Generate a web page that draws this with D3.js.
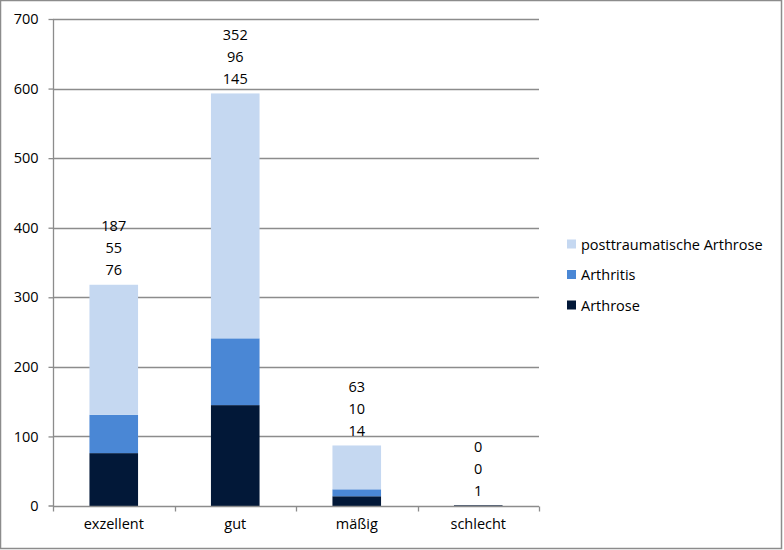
<!DOCTYPE html>
<html><head><meta charset="utf-8">
<script src="https://cdn.jsdelivr.net/npm/d3@7"></script>
<style>
html,body{margin:0;padding:0;background:#fff;}
svg{display:block;}
text{font-family:"Open Sans",sans-serif;fill:#000;}
</style></head>
<body>
<svg id="chart" width="784" height="550"></svg>
<script>
const categories = ["exzellent", "gut", "mäßig", "schlecht"];
const seriesNames = ["Arthrose", "Arthritis", "posttraumatische Arthrose"];
const arthrose = [76, 145, 14, 1];
const arthritis = [55, 96, 10, 0];
const posttraumatisch = [187, 352, 63, 0];
const yTicks = [0, 100, 200, 300, 400, 500, 600, 700];
const colors = ["#021838", "#4a87d5", "#c5d8f1"];

const seriesValues = [arthrose, arthritis, posttraumatisch];
const rows = categories.map((c, i) => {
  const r = {cat: c};
  seriesNames.forEach((s, j) => r[s] = seriesValues[j][i]);
  return r;
});

const svg = d3.select("#chart");
const margin = {left: 53, right: 245, top: 19, bottom: 44};
const W = 784, H = 550;

// outer border
svg.append("rect").attr("x", 0.5).attr("y", 0.5).attr("width", 781).attr("height", 548)
  .attr("fill", "#fff").attr("stroke", "#8c8c8c").attr("stroke-width", 1.5);

const x = d3.scaleBand().domain(categories).range([margin.left, W - margin.right])
  .paddingInner(0.6).paddingOuter(0.3);
const xOuter = d3.scaleBand().domain(categories).range([margin.left, W - margin.right]);
const y = d3.scaleLinear().domain([0, 700]).range([H - margin.bottom, margin.top]);

// gridlines
svg.append("g").selectAll("line").data(yTicks.filter(t => t > 0)).join("line")
  .attr("x1", margin.left).attr("x2", W - margin.right)
  .attr("y1", d => Math.round(y(d)) + 0.5).attr("y2", d => Math.round(y(d)) + 0.5)
  .attr("stroke", "#8c8c8c").attr("stroke-width", 1.3);

// stacked bars
const stack = d3.stack().keys(seriesNames)(rows);
svg.append("g").selectAll("g").data(stack).join("g")
  .attr("fill", (d, i) => colors[i])
  .selectAll("rect").data(d => d).join("rect")
  .attr("x", d => x(d.data.cat))
  .attr("width", x.bandwidth())
  .attr("y", d => y(d[1]))
  .attr("height", d => Math.max(0, y(d[0]) - y(d[1])));

// y axis
const yAxis = d3.axisLeft(y).tickValues(yTicks).tickSize(5).tickPadding(10).tickFormat(d3.format("d"));
const gy = svg.append("g").attr("transform", `translate(${margin.left + 0.5},0)`).call(yAxis);
gy.select(".domain").attr("stroke", "#8c8c8c").attr("stroke-width", 1.3).attr("d", `M-5,${y(0)}H0V${y(700)}`);
gy.selectAll(".tick line").attr("stroke", "#8c8c8c").attr("stroke-width", 1.3);
gy.selectAll(".tick text").style("font-size", "14.5px").style("font-family", "'Open Sans',sans-serif").attr("fill", "#000");
gy.selectAll(".tick").filter(d => d === 0).select("line").remove();

// x axis
const xAxis = d3.axisBottom(xOuter).tickSize(0).tickPadding(12);
const gx = svg.append("g").attr("transform", `translate(0,${Math.round(y(0)) + 0.5})`).call(xAxis);
gx.select(".domain").attr("stroke", "#8c8c8c").attr("stroke-width", 1.3).attr("d", `M${margin.left},0H${W - margin.right}`);
gx.selectAll(".tick text").style("font-size", "14.5px").style("font-family", "'Open Sans',sans-serif").attr("fill", "#000");
// category boundary ticks
const bounds = categories.map(c => xOuter(c)).concat([W - margin.right]);
gx.append("g").selectAll("line").data(bounds).join("line")
  .attr("x1", d => Math.round(d) + 0.5).attr("x2", d => Math.round(d) + 0.5)
  .attr("y1", 0).attr("y2", 5).attr("stroke", "#8c8c8c").attr("stroke-width", 1.3);

// value labels: stacked text above each bar (top series first)
const lineGap = 22;
const labelG = svg.append("g").style("font-size", "14.5px");
rows.forEach((r, i) => {
  const total = d3.sum(seriesNames, s => r[s]);
  const base = y(total) - 15;
  seriesNames.forEach((s, j) => {
    labelG.append("text")
      .attr("x", x(r.cat) + x.bandwidth() / 2)
      .attr("y", base - j * lineGap)
      .attr("text-anchor", "middle")
      .attr("dominant-baseline", "central")
      .text(r[s]);
  });
});

// legend
const legendOrder = seriesNames.map((s, i) => ({name: s, color: colors[i]})).reverse();
const lg = svg.append("g").attr("transform", "translate(567,244)");
const li = lg.selectAll("g").data(legendOrder).join("g")
  .attr("transform", (d, i) => `translate(0,${i * 30.5})`);
li.append("rect").attr("x", 0).attr("y", -4.5).attr("width", 9).attr("height", 9).attr("fill", d => d.color);
li.append("text").attr("x", 14).attr("y", 0).attr("dominant-baseline", "central")
  .style("font-size", "14.5px").text(d => d.name);
</script>
</body></html>
